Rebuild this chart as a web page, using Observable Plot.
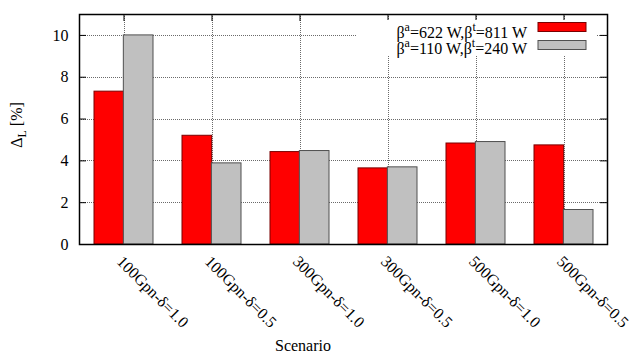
<!DOCTYPE html>
<html><head><meta charset="utf-8">
<script src="https://cdn.jsdelivr.net/npm/d3@7"></script>
<script src="https://cdn.jsdelivr.net/npm/@observablehq/plot@0.6"></script>
<style>body{margin:0;background:#fff}</style>
</head><body><div id="chart"></div>
<script>
const scenarios = ["100Gpn-δ=1.0","100Gpn-δ=0.5","300Gpn-δ=1.0","300Gpn-δ=0.5","500Gpn-δ=1.0","500Gpn-δ=0.5"];
const seriesA = [7.31, 5.20, 4.42, 3.64, 4.83, 4.74];
const seriesB = [10.0, 3.88, 4.47, 3.69, 4.90, 1.65];
const legendLabels = ["β^a=622 W,β^t=811 W", "β^a=110 W,β^t=240 W"];
const seriesColors = ["#ff0000", "#c0c0c0"];
const seriesStrokes = ["#7a0000", "#505050"];
const yTicks = [0, 2, 4, 6, 8, 10];
const yLabel = "Δ_L [%]";
const xLabel = "Scenario";

const font = "'Liberation Serif', 'Times New Roman', serif";
const W = 642, H = 354, mL = 79, mR = 35, mT = 14, mB = 110;
const fw = W - mL - mR, fh = H - mT - mB;
const bw = fw / 6 * 2 / 3;
const data = scenarios.map((s, i) => ({scenario: s, a: seriesA[i], b: seriesB[i]}));
const grid = {stroke: "#6a6a6a", strokeOpacity: 1, strokeDasharray: "1,1", strokeWidth: 1, shapeRendering: "crispEdges"};

const plot = Plot.plot({
  width: W, height: H, marginLeft: mL, marginRight: mR, marginTop: mT, marginBottom: mB,
  style: {fontFamily: font, fontSize: "16px", background: "white", color: "black"},
  x: {domain: scenarios, paddingInner: 1/3, paddingOuter: 1/6, label: null},
  y: {domain: [0, 11], label: null},
  marks: [
    Plot.ruleY(yTicks.filter(d => d > 0), grid),
    Plot.ruleX(scenarios, {x: d => d, ...grid}),
    Plot.barY(data, {x: "scenario", y: "a", fill: seriesColors[0], stroke: seriesStrokes[0], strokeWidth: 1, insetRight: bw / 2}),
    Plot.barY(data, {x: "scenario", y: "b", fill: seriesColors[1], stroke: seriesStrokes[1], strokeWidth: 1, insetLeft: bw / 2}),
    Plot.tickY(yTicks, {y: d => d, stroke: "black", insetRight: fw - 7}),
    Plot.tickY(yTicks, {y: d => d, stroke: "black", insetLeft: fw - 7}),
    Plot.tickX(scenarios, {x: d => d, stroke: "black", insetBottom: fh - 7}),
    Plot.axisY(yTicks, {tickSize: 0, tickPadding: 11, label: null, fontSize: 16, fontFamily: font}),
    Plot.axisX({tickSize: 0, tickRotate: 45, tickPadding: 10, textAnchor: "start", lineAnchor: "top", label: null, fontSize: 16, fontFamily: font}),
    Plot.frame({stroke: "black", strokeWidth: 1.5})
  ]
});
document.getElementById("chart").appendChild(plot);

const svg = d3.select(plot);
function richText(sel, str, small, up, down) {
  // parse ^x (superscript) and _x (subscript) single-char markers
  let shift = 0;
  for (let i = 0; i < str.length; i++) {
    const c = str[i];
    if ((c === "^" || c === "_") && i + 1 < str.length) {
      const d = c === "^" ? -up : down;
      sel.append("tspan").attr("dy", d).attr("font-size", small).text(str[i + 1]);
      shift = -d;
      i++;
    } else {
      let j = i;
      while (j < str.length && str[j] !== "^" && str[j] !== "_") j++;
      const t = sel.append("tspan").text(str.slice(i, j));
      if (shift) { t.attr("dy", shift); shift = 0; }
      i = j - 1;
    }
  }
}

// legend
const lg = svg.append("g").attr("font-family", font).attr("font-size", 16);
lg.append("rect").attr("x", 356).attr("y", 20).attr("width", 241).attr("height", 36).attr("fill", "white");
legendLabels.forEach((lab, i) => {
  const t = lg.append("text").attr("x", 527).attr("y", 37.5 + i * 16.5).attr("text-anchor", "end").attr("fill", "black");
  richText(t, lab, 12, 7, 4);
  lg.append("rect").attr("x", 538).attr("y", 22.5 + i * 18).attr("width", 48).attr("height", 9)
    .attr("fill", seriesColors[i]).attr("stroke", seriesStrokes[i]).attr("stroke-width", 1);
});

// axis titles
const yl = svg.append("text").attr("font-family", font).attr("font-size", 16).attr("fill", "black")
  .attr("text-anchor", "middle").attr("transform", "translate(22,125) rotate(-90)");
richText(yl, yLabel, 12, 7, 4);
svg.append("text").attr("font-family", font).attr("font-size", 16).attr("fill", "black")
  .attr("text-anchor", "middle").attr("x", 303).attr("y", 351).text(xLabel);
</script>
</body></html>
